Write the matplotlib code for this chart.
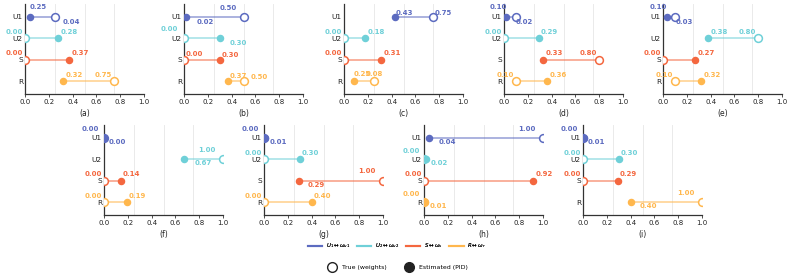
import matplotlib
matplotlib.use("Agg")
import matplotlib.pyplot as plt
from matplotlib.lines import Line2D

# ---------------- data ----------------
panels = ["(a)", "(b)", "(c)", "(d)", "(e)", "(f)", "(g)", "(h)", "(i)"]
rows = ["U1", "U2", "S", "R"]
true_a = [0.25, 0.00, 0.00, 0.75]; est_a = [0.04, 0.28, 0.37, 0.32]
true_b = [0.50, 0.00, 0.00, 0.50]; est_b = [0.02, 0.30, 0.30, 0.37]
true_c = [0.75, 0.00, 0.00, 0.25]; est_c = [0.43, 0.18, 0.31, 0.08]
true_d = [0.10, 0.00, 0.80, 0.10]; est_d = [0.02, 0.29, 0.33, 0.36]
true_e = [0.10, 0.80, 0.00, 0.10]; est_e = [0.03, 0.38, 0.27, 0.32]
true_f = [0.00, 1.00, 0.00, 0.00]; est_f = [0.00, 0.67, 0.14, 0.19]
true_g = [0.00, 0.00, 1.00, 0.00]; est_g = [0.01, 0.30, 0.29, 0.40]
true_h = [1.00, 0.00, 0.00, 0.00]; est_h = [0.04, 0.02, 0.92, 0.01]
true_i = [0.00, 0.00, 0.00, 1.00]; est_i = [0.01, 0.30, 0.29, 0.40]
true_vals = [true_a, true_b, true_c, true_d, true_e, true_f, true_g, true_h, true_i]
est_vals = [est_a, est_b, est_c, est_d, est_e, est_f, est_g, est_h, est_i]
legend_labels = [r"$U_1 \leftrightarrow \omega_{u1}$", r"$U_2 \leftrightarrow \omega_{u2}$",
                 r"$S \leftrightarrow \omega_s$", r"$R \leftrightarrow \omega_r$"]

# ---------------- style ----------------
colors = ["#5c6bc0", "#6fd0d8", "#f4673f", "#ffb74d"]
ypos = [3, 2, 1, 0]

# label placement overrides: (panel, row, kind) -> (left-edge x, dy)
overrides = {
    (0, 0, "t"): (0.04, 0.47), (0, 0, "e"): (0.32, -0.23),
    (1, 0, "t"): (0.30, 0.39), (1, 0, "e"): (0.105, -0.25),
    (1, 1, "t"): (-0.20, 0.42), (1, 1, "e"): (0.38, -0.20),
    (1, 2, "t"): (0.017, 0.25), (1, 2, "e"): (0.32, 0.23),
    (1, 3, "e"): (0.38, 0.23), (1, 3, "t"): (0.56, 0.20),
    (2, 0, "e"): (0.43, 0.19), (2, 0, "t"): (0.76, 0.19),
    (2, 3, "t"): (0.08, 0.33), (2, 3, "e"): (0.18, 0.33),
    (3, 0, "t"): (-0.12, 0.45), (3, 0, "e"): (0.10, -0.23),
    (4, 0, "t"): (-0.11, 0.45), (4, 0, "e"): (0.11, -0.23),
    (5, 0, "t"): (-0.19, 0.42), (5, 0, "e"): (0.04, -0.19),
    (5, 1, "t"): (0.79, 0.42), (5, 1, "e"): (0.76, -0.19),
    (6, 0, "t"): (-0.19, 0.42), (6, 0, "e"): (0.045, -0.19),
    (6, 2, "t"): (0.79, 0.44), (6, 2, "e"): (0.37, -0.20),
    (7, 0, "t"): (0.79, 0.42), (7, 0, "e"): (0.12, -0.19),
    (7, 1, "t"): (-0.18, 0.40), (7, 1, "e"): (0.056, -0.17),
    (7, 3, "t"): (-0.18, 0.37), (7, 3, "e"): (0.045, -0.17),
    (8, 0, "t"): (-0.19, 0.42), (8, 0, "e"): (0.04, -0.19),
    (8, 3, "t"): (0.79, 0.42), (8, 3, "e"): (0.48, -0.20),
}

W, H = 793, 277
fig = plt.figure(figsize=(W / 100, H / 100), dpi=100)
lefts_px = [25, 184, 344, 504, 663, 104, 264, 424, 583]
tops_px = [4] * 5 + [125] * 4
axw, axh = 119, 90

for p in range(9):
    ax = fig.add_axes([lefts_px[p] / W, 1 - (tops_px[p] + axh) / H, axw / W, axh / H])
    for g in [0.25, 0.5, 0.75, 1.0]:
        ax.axvline(g, color="#e6e6e6", lw=0.6, zorder=0)
    tv, ev = true_vals[p], est_vals[p]
    for r in range(4):
        y = ypos[r]
        c = colors[r]
        ax.plot([tv[r], ev[r]], [y, y], color=c, lw=1.2, alpha=0.6, zorder=2,
                solid_capstyle="butt")
        ax.plot(ev[r], y, "o", color=c, ms=4.4, zorder=4)
        ax.plot(tv[r], y, "o", mfc="white", mec=c, mew=1.1, ms=5.6, zorder=3)
        for kind, val in (("t", tv[r]), ("e", ev[r])):
            key = (p, r, kind)
            if key in overrides:
                x, dy = overrides[key]
                ha = "left"
            elif kind == "t":
                x, dy, ha = val - 0.02, 0.3, "right"
            else:
                x, dy, ha = val + 0.02, 0.3, "left"
            ax.text(x, y + dy, f"{val:.2f}", color=c, fontsize=5, fontweight="bold",
                    ha=ha, va="center", clip_on=False, zorder=5)
    ax.set_xlim(0, 1.0)
    ax.set_ylim(-0.6, 3.6)
    ax.set_yticks(ypos)
    ax.set_yticklabels(rows, fontsize=5.3, color="#222222")
    ax.set_xticks([0, 0.2, 0.4, 0.6, 0.8, 1.0])
    ax.set_xticklabels(["0.0", "0.2", "0.4", "0.6", "0.8", "1.0"], fontsize=5, color="#222222")
    ax.tick_params(axis="y", length=0, pad=1.5)
    ax.tick_params(axis="x", length=2, width=0.6, pad=1.5, color="#333333")
    for s in ("top", "right"):
        ax.spines[s].set_visible(False)
    for s in ("left", "bottom"):
        ax.spines[s].set_linewidth(0.9)
        ax.spines[s].set_color("#333333")
    ax.set_xlabel(panels[p], fontsize=5.5, labelpad=3, color="#222222")

line_handles = [Line2D([0], [0], color=c, lw=1.5) for c in colors]
leg1 = fig.legend(line_handles, legend_labels, loc="center", bbox_to_anchor=(397 / W, 1 - 246 / H),
                  ncol=4, frameon=False, fontsize=4, handlelength=2.6, columnspacing=1.2,
                  handletextpad=0.6, borderpad=0)
fig.add_artist(leg1)
mk_handles = [Line2D([0], [0], marker="o", ls="none", mfc="white", mec="#222222", mew=1.0, ms=7),
              Line2D([0], [0], marker="o", ls="none", color="#222222", ms=7)]
fig.legend(mk_handles, ["True (weights)", "Estimated (PID)"], loc="center",
           bbox_to_anchor=(397 / W, 1 - 267 / H), ncol=2, frameon=False, fontsize=4.5,
           handletextpad=0.6, columnspacing=2.5, borderpad=0)

fig.savefig("out.png", dpi=100)
